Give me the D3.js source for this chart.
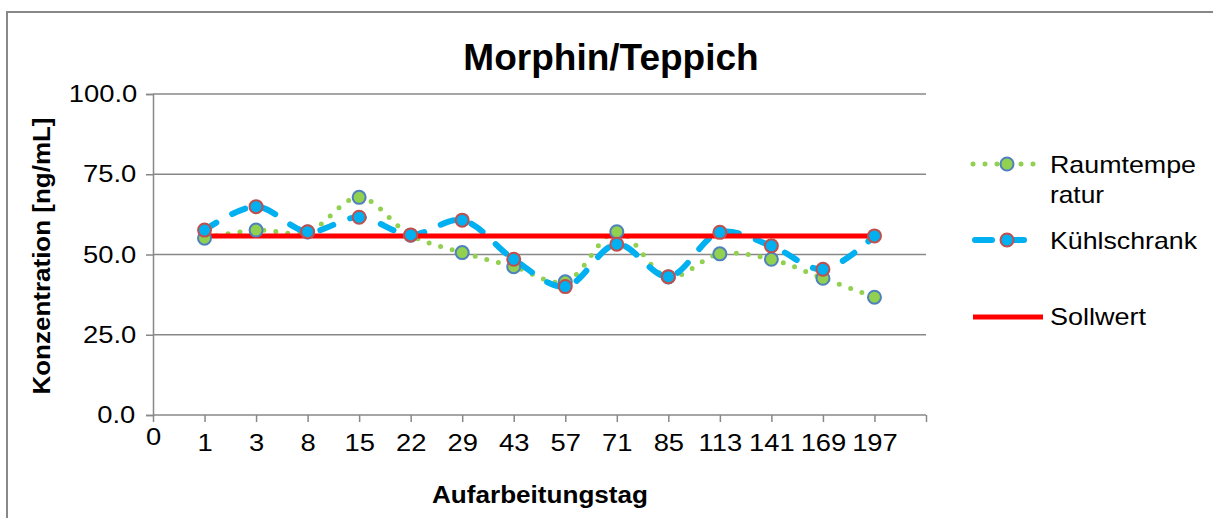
<!DOCTYPE html>
<html lang="de">
<head>
  <meta charset="UTF-8">
  <script src="https://d3js.org/d3.v7.min.js"></script>
  <title>Morphin/Teppich</title>
  <style>
    body { margin: 0; background: #fff; }
    text { font-family: "Liberation Sans", Arial, sans-serif; fill: #000; }
    .wide { transform-box: fill-box; transform-origin: center; transform: scaleX(1.14); }
  </style>
</head>
<body>
  <svg width="1213" height="518"></svg>

  <script>
    // Daten
    var days = ["1", "3", "8", "15", "22", "29", "43", "57", "71", "85", "113", "141", "169", "197"];
    var raumtemperatur = [55.1, 57.6, 57.0, 67.8, 56.0, 50.6, 46.2, 41.5, 57.1, 43.0, 50.2, 48.5, 42.6, 36.7];
    var kuehlschrank = [57.6, 64.9, 57.1, 61.6, 56.1, 60.7, 48.5, 40.0, 53.2, 43.1, 56.9, 52.7, 45.4, 55.8];
    var sollwert = 55.8;
    var yTicks = [0, 25, 50, 75, 100];
    var seriesNames = ["Raumtempe|ratur", "Kühlschrank", "Sollwert"];

    var svg = d3.select("svg");
    var plot = { left: 153, right: 926, top: 94, bottom: 415 };

    // Rahmen
    svg.append("rect")
      .attr("x", 7).attr("y", 12)
      .attr("width", 1230).attr("height", 530)
      .attr("fill", "none").attr("stroke", "#888").attr("stroke-width", 2);

    // Skalen
    var x = d3.scalePoint()
      .domain(["0"].concat(days).concat([""]))
      .range([plot.left, plot.right]);
    var y = d3.scaleLinear().domain([0, 100]).range([plot.bottom, plot.top]);

    // Gitterlinien
    svg.append("g")
      .selectAll("line")
      .data(yTicks.slice(1))
      .enter()
      .append("line")
      .attr("x1", plot.left).attr("x2", plot.right)
      .attr("y1", function(d){ return y(d) })
      .attr("y2", function(d){ return y(d) })
      .attr("stroke", "#888").attr("stroke-width", 1.5);

    // y-Achse
    var yAxis = svg.append("g")
      .attr("transform", "translate(" + plot.left + ",0)")
      .call(d3.axisLeft(y).tickValues(yTicks).tickFormat(d3.format(".1f")).tickSize(7).tickPadding(13));
    yAxis.select(".domain").attr("stroke", "#888").attr("stroke-width", 1.5);
    yAxis.selectAll(".tick line").attr("stroke", "#888").attr("stroke-width", 1.5);
    yAxis.selectAll(".tick text")
      .attr("class", "wide")
      .style("font-size", "24px")
      .style("font-family", "'Liberation Sans', Arial, sans-serif")
      .attr("fill", "#000");

    // x-Achse
    var xAxis = svg.append("g")
      .attr("transform", "translate(0," + plot.bottom + ")")
      .call(d3.axisBottom(x).tickSize(7).tickSizeOuter(0).tickPadding(12));
    xAxis.select(".domain").attr("stroke", "#888").attr("stroke-width", 1.5)
      .attr("d", "M" + plot.left + ",0H" + plot.right);
    xAxis.selectAll(".tick line").attr("stroke", "#888").attr("stroke-width", 1.5);
    xAxis.selectAll(".tick text")
      .attr("class", "wide")
      .style("font-size", "24px")
      .style("font-family", "'Liberation Sans', Arial, sans-serif")
      .attr("fill", "#000")
      .attr("dy", function(d){ return d === "0" ? "0.45em" : "0.71em" });

    // Titel
    svg.append("text")
      .attr("x", 611).attr("y", 70)
      .attr("text-anchor", "middle")
      .style("font-size", "37px").style("font-weight", "bold")
      .text("Morphin/Teppich");

    svg.append("text")
      .attr("transform", "translate(50,256) rotate(-90)")
      .attr("text-anchor", "middle")
      .style("font-size", "23px").style("font-weight", "bold")
      .attr("textLength", 277).attr("lengthAdjust", "spacingAndGlyphs")
      .text("Konzentration [ng/mL]");

    svg.append("text")
      .attr("x", 540).attr("y", 503)
      .attr("text-anchor", "middle")
      .style("font-size", "23px").style("font-weight", "bold")
      .attr("textLength", 216).attr("lengthAdjust", "spacingAndGlyphs")
      .text("Aufarbeitungstag");

    // Linien
    var line = d3.line()
      .x(function(d, i){ return x(days[i]) })
      .y(function(d){ return y(d) })
      .curve(d3.curveCatmullRom);

    svg.append("path")
      .datum(raumtemperatur)
      .attr("d", line)
      .attr("fill", "none").attr("stroke", "#92D050").attr("stroke-width", 5)
      .attr("stroke-linecap", "round").attr("stroke-dasharray", "0 12");

    svg.append("path")
      .datum(kuehlschrank)
      .attr("d", line)
      .attr("fill", "none").attr("stroke", "#00B0F0").attr("stroke-width", 6)
      .attr("stroke-linecap", "round").attr("stroke-dasharray", "14 18");

    svg.append("line")
      .attr("x1", x(days[0])).attr("x2", x(days[days.length - 1]))
      .attr("y1", y(sollwert)).attr("y2", y(sollwert))
      .attr("stroke", "#FF0000").attr("stroke-width", 5);

    // Marker
    function markers(values, fill, stroke) {
      svg.append("g")
        .selectAll("circle")
        .data(values)
        .enter()
        .append("circle")
        .attr("cx", function(d, i){ return x(days[i]) })
        .attr("cy", function(d){ return y(d) })
        .attr("r", 6.5)
        .attr("fill", fill).attr("stroke", stroke).attr("stroke-width", 2);
    }
    markers(raumtemperatur, "#92D050", "#4F81BD");
    markers(kuehlschrank, "#00B0F0", "#C0504D");

    // Legende
    var lg = svg.append("g");
    lg.append("line")
      .attr("x1", 973).attr("x2", 1040).attr("y1", 164).attr("y2", 164)
      .attr("stroke", "#92D050").attr("stroke-width", 5)
      .attr("stroke-linecap", "round").attr("stroke-dasharray", "0 12");
    lg.append("circle").attr("cx", 1007).attr("cy", 164).attr("r", 6.5)
      .attr("fill", "#92D050").attr("stroke", "#4F81BD").attr("stroke-width", 2);
    lg.append("line")
      .attr("x1", 975).attr("x2", 1035).attr("y1", 240).attr("y2", 240)
      .attr("stroke", "#00B0F0").attr("stroke-width", 6)
      .attr("stroke-linecap", "round").attr("stroke-dasharray", "17 15");
    lg.append("circle").attr("cx", 1007).attr("cy", 240).attr("r", 6.5)
      .attr("fill", "#00B0F0").attr("stroke", "#C0504D").attr("stroke-width", 2);
    lg.append("line")
      .attr("x1", 973).attr("x2", 1043).attr("y1", 317).attr("y2", 317)
      .attr("stroke", "#FF0000").attr("stroke-width", 5);

    var labelY = [173, 249, 325];
    var legendWidths = [[146, 54], [147], [96]];
    seriesNames.forEach(function(name, i){
      name.split("|").forEach(function(part, j){
        lg.append("text")
          .attr("x", 1050).attr("y", labelY[i] + j * 30)
          .style("font-size", "24px")
          .attr("textLength", legendWidths[i][j]).attr("lengthAdjust", "spacingAndGlyphs")
          .text(part);
      });
    });
  </script>
</body>
</html>
